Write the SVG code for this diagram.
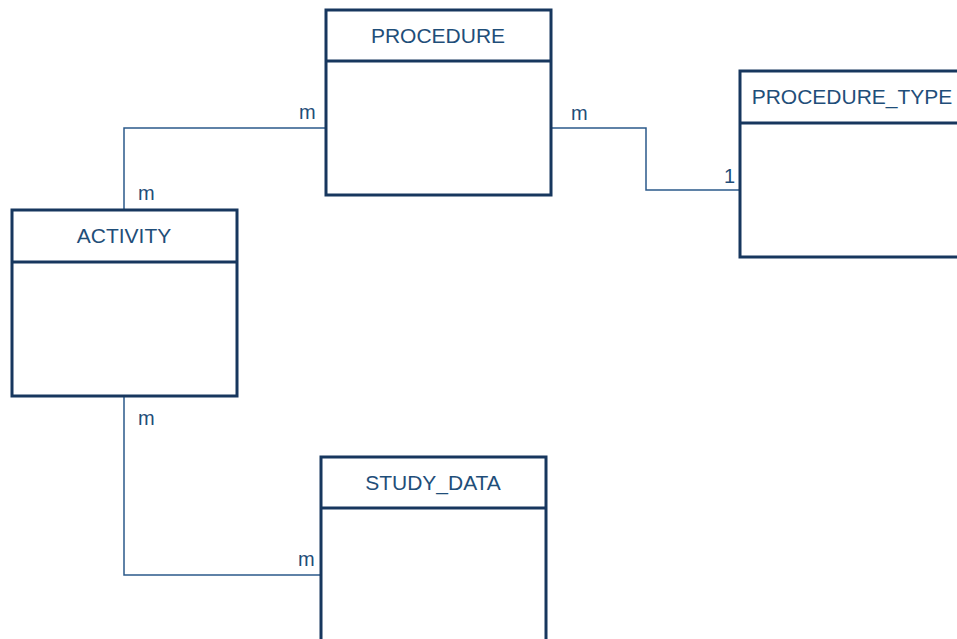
<svg xmlns="http://www.w3.org/2000/svg" width="957" height="639" viewBox="0 0 957 639">
<style>
.box{fill:#fff;stroke:#17375e;stroke-width:3}
.sep{stroke:#17375e;stroke-width:3}
.title{font-family:"Liberation Sans",Arial,sans-serif;font-size:21px;fill:#1f4e79;text-anchor:middle}
.lbl{font-family:"Liberation Sans",Arial,sans-serif;font-size:20px;fill:#1f4e79}
.conn{fill:none;stroke:#2b5a8a;stroke-width:1.5}
</style>
<rect width="957" height="639" fill="#fff"/>
<g id="connectors">
<path class="conn" d="M124,209 V128 H325"/>
<path class="conn" d="M551,128 H646 V190 H739"/>
<path class="conn" d="M124,396 V575 H320"/>
<text class="lbl" x="299" y="119">m</text>
<text class="lbl" x="138" y="200">m</text>
<text class="lbl" x="571" y="120">m</text>
<text class="lbl" x="735" y="183" text-anchor="end">1</text>
<text class="lbl" x="138" y="425">m</text>
<text class="lbl" x="298" y="566">m</text>
</g>
<g id="procedure">
<rect class="box" x="326" y="10" width="225" height="185"/>
<line class="sep" x1="326" y1="61" x2="551" y2="61"/>
<text class="title" x="438" y="42.5">PROCEDURE</text>
</g>
<g id="procedure_type">
<rect class="box" x="740" y="71" width="225" height="186"/>
<line class="sep" x1="740" y1="123" x2="965" y2="123"/>
<text class="title" x="852" y="104">PROCEDURE_TYPE</text>
</g>
<g id="activity">
<rect class="box" x="12" y="210" width="225" height="186"/>
<line class="sep" x1="12" y1="262" x2="237" y2="262"/>
<text class="title" x="124" y="243">ACTIVITY</text>
</g>
<g id="study_data">
<rect class="box" x="321" y="457" width="225" height="200"/>
<line class="sep" x1="321" y1="508" x2="546" y2="508"/>
<text class="title" x="433" y="490">STUDY_DATA</text>
</g>
</svg>
